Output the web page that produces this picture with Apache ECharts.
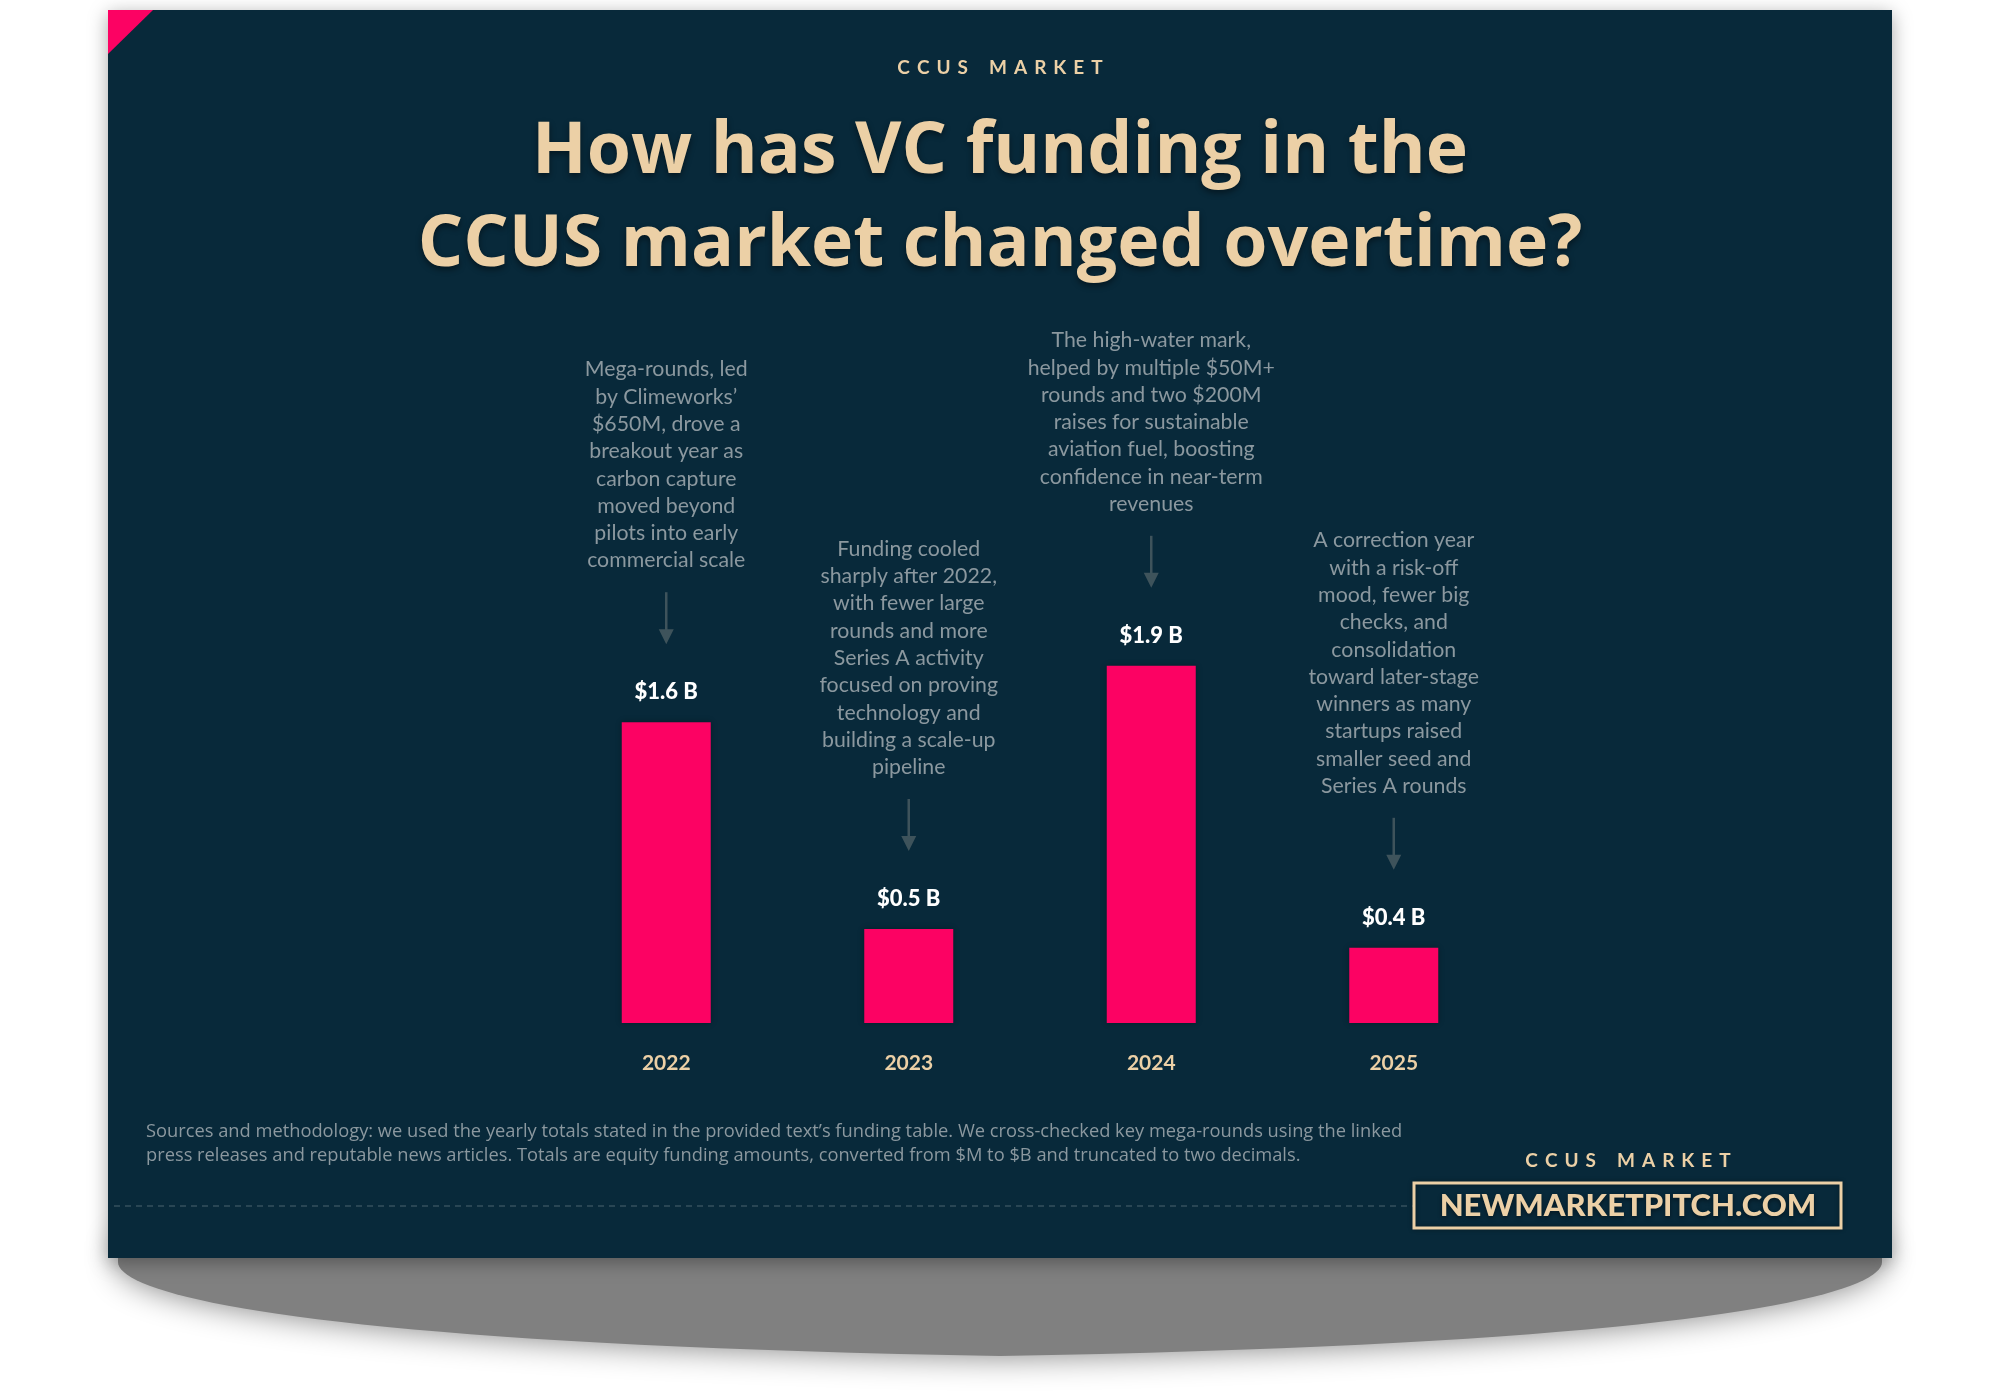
<!DOCTYPE html>
<html><head><meta charset="utf-8">
<script src="https://cdn.jsdelivr.net/npm/echarts@6/dist/echarts.min.js"></script>
<style>html,body{margin:0;padding:0;background:#fff}#c{width:2000px;height:1400px}</style>
</head><body><div id="c"></div>
<script>
// ---- data ----
const years = ['2022', '2023', '2024', '2025'];
const fundingB = [1.6, 0.5, 1.9, 0.4];
const notes = [
  'Mega-rounds, led\nby Climeworks’\n$650M, drove a\nbreakout year as\ncarbon capture\nmoved beyond\npilots into early\ncommercial scale',
  'Funding cooled\nsharply after 2022,\nwith fewer large\nrounds and more\nSeries A activity\nfocused on proving\ntechnology and\nbuilding a scale-up\npipeline',
  'The high-water mark,\nhelped by multiple $50M+\nrounds and two $200M\nraises for sustainable\naviation fuel, boosting\nconfidence in near-term\nrevenues',
  'A correction year\nwith a risk-off\nmood, fewer big\nchecks, and\nconsolidation\ntoward later-stage\nwinners as many\nstartups raised\nsmaller seed and\nSeries A rounds'
];
const kickerWords = ['CCUS', 'MARKET'];
const titleText = 'How has VC funding in the\nCCUS market changed overtime?';
const sourceText = 'Sources and methodology: we used the yearly totals stated in the provided text’s funding table. We cross-checked key mega-rounds using the linked\npress releases and reputable news articles. Totals are equity funding amounts, converted from $M to $B and truncated to two decimals.';
const siteText = 'NEWMARKETPITCH.COM';

// ---- styles ----
const BG = '#08293a', TAN = '#ecd0a6', PINK = '#fc0263', NOTE = '#8b989f', ARROW = '#3e535b';
const FONT = 'Lato, "Noto Sans", sans-serif';
const WIDE = '"Open Sans", Lato, sans-serif';

// letter-spaced kicker built from rich-text spacers
const kickerRich = kickerWords.map(w => w.split('').join('{s| }')).join('{w| }');
const kickerStyle = {
  fill: TAN, fontFamily: FONT, fontWeight: 'bold', fontSize: 19,
  rich: {
    s: {width: 7, fontSize: 19, fontFamily: FONT},
    w: {width: 21, fontSize: 19, fontFamily: FONT}
  }
};

// curved "lifted paper" shadow outline (decoration)
function cubic(p0, p1, p2, p3, t) {
  const u = 1 - t;
  return [
    u*u*u*p0[0] + 3*u*u*t*p1[0] + 3*u*t*t*p2[0] + t*t*t*p3[0],
    u*u*u*p0[1] + 3*u*u*t*p1[1] + 3*u*t*t*p2[1] + t*t*t*p3[1]
  ];
}
const shadowPts = [[118, 1240], [1882, 1240]];
for (let i = 0; i <= 40; i++) shadowPts.push(cubic([1882,1262],[1882,1294],[1700,1344],[1000,1356], i/40));
for (let i = 1; i <= 40; i++) shadowPts.push(cubic([1000,1356],[300,1344],[118,1294],[118,1262], i/40));

const chart = echarts.init(document.getElementById('c'), null, {renderer: 'canvas'});
chart.setOption({
  backgroundColor: '#ffffff',
  animation: false,
  title: {
    text: titleText,
    left: 'center',
    top: 101,
    textStyle: {
      color: TAN, fontFamily: WIDE, fontWeight: 'bold', fontSize: 71.5, lineHeight: 93,
      textShadowColor: 'rgba(0,0,0,0.45)', textShadowBlur: 6, textShadowOffsetY: 3
    },
    z: 20
  },
  grid: {left: 545, right: 485, top: 647, bottom: 377},
  xAxis: {
    type: 'category', data: years, z: 20,
    axisLine: {show: false}, axisTick: {show: false},
    axisLabel: {color: TAN, fontFamily: FONT, fontWeight: 'bold', fontSize: 21, margin: 30}
  },
  yAxis: {type: 'value', min: 0, max: 2, show: false, splitLine: {show: false}},
  graphic: [
    {type: 'polygon', z: 0, shape: {points: shadowPts},
     style: {fill: '#808080', shadowBlur: 32, shadowColor: 'rgba(128,128,128,1)'}},
    {type: 'rect', z: 1, shape: {x: 108, y: 10, width: 1784, height: 1248},
     style: {fill: BG, shadowBlur: 18, shadowColor: 'rgba(0,0,0,0.35)', shadowOffsetY: 4}},
    {type: 'polygon', z: 2, shape: {points: [[108, 10], [153, 10], [108, 54]]}, style: {fill: PINK}},
    {type: 'text', z: 20, style: Object.assign({text: kickerRich, x: 1000, y: 68, align: 'center', verticalAlign: 'middle'}, kickerStyle)},
    {type: 'text', z: 20, style: {text: sourceText, x: 146, y: 1120, align: 'left', verticalAlign: 'top',
      fill: NOTE, fontFamily: WIDE, fontSize: 18.3, lineHeight: 24}},
    {type: 'line', z: 3, shape: {x1: 114, y1: 1206, x2: 1414, y2: 1206},
     style: {stroke: '#34505d', lineWidth: 1.5, lineDash: [6, 5]}},
    {type: 'text', z: 20, style: Object.assign({text: kickerRich, x: 1628, y: 1161, align: 'center', verticalAlign: 'middle'}, kickerStyle)},
    {type: 'rect', z: 20, shape: {x: 1414, y: 1183, width: 427, height: 45},
     style: {fill: 'transparent', stroke: TAN, lineWidth: 3, shadowBlur: 4, shadowColor: 'rgba(0,0,0,0.4)'}},
    {type: 'text', z: 20, style: {text: siteText, x: 1628, y: 1206, align: 'center', verticalAlign: 'middle',
      fill: TAN, fontFamily: FONT, fontWeight: 900, fontSize: 31,
      textShadowColor: 'rgba(0,0,0,0.45)', textShadowBlur: 4, textShadowOffsetY: 2}}
  ],
  series: [
    {
      type: 'bar', data: fundingB, barWidth: 89, z: 5,
      itemStyle: {color: PINK, shadowBlur: 6, shadowColor: 'rgba(0,0,0,0.3)'},
      label: {
        show: true, position: 'top', distance: 19,
        formatter: p => '$' + p.value.toFixed(1) + ' B',
        color: '#ffffff', fontFamily: FONT, fontWeight: 900, fontSize: 22
      }
    },
    {
      type: 'custom', z: 6, clip: false,
      data: years.map((y, i) => [i, fundingB[i]]),
      renderItem: function (params, api) {
        const p = api.coord([api.value(0), api.value(1)]);
        const x = p[0], top = p[1];
        return {
          type: 'group',
          children: [
            {type: 'line', shape: {x1: x, y1: top - 130, x2: x, y2: top - 91}, style: {stroke: ARROW, lineWidth: 2.5}},
            {type: 'polygon', shape: {points: [[x - 7.5, top - 93], [x + 7.5, top - 93], [x, top - 78]]}, style: {fill: ARROW}},
            {type: 'text', style: {text: notes[params.dataIndex], x: x, y: top - 148, align: 'center', verticalAlign: 'bottom',
              fill: NOTE, fontFamily: FONT, fontSize: 21.3, lineHeight: 27.3}}
          ]
        };
      }
    }
  ]
});
</script>
</body></html>
